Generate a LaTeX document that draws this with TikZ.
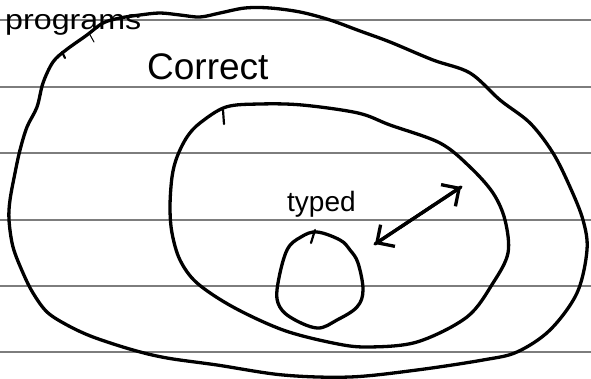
\documentclass[tikz,border=0pt]{standalone}
\usepackage{fontspec}
\setmainfont{Liberation Sans}
\usetikzlibrary{arrows.meta}
\definecolor{rulegray}{RGB}{125,125,125}
\begin{document}
\begin{tikzpicture}[x=1pt,y=-1pt,
  rule/.style={draw=rulegray, line width=1.3pt},
  ink/.style={draw=black, line width=3.3pt, line cap=round, line join=round},
  tick/.style={draw=black, line width=2.2pt, line cap=round},
  hand/.style={inner sep=0pt, anchor=base west, text=black},
  barb/.style={-{Straight Barb[length=13pt,width=26pt,line width=3.3pt]}}]
\clip (0,0) rectangle (591,379);
\fill[white] (0,0) rectangle (591,379);
% ruled paper
\foreach \y in {20,87,153,220,286,352} \draw[rule] (0,\y) -- (591,\y);
% outer set: programs
\draw[ink] plot[smooth cycle, tension=0.55] coordinates {
  (53,62) (43,83) (37,107) (27,127) (20,150) (15,173) (10,200) (9,220)
  (13,247) (23,273) (33,293) (47,312) (67,325) (93,337) (133,350)
  (167,358) (217,365) (283,375) (350,377) (417,370) (483,360) (517,352)
  (550,330) (577,293) (587,250) (583,220) (570,187) (553,153) (530,123)
  (500,100) (470,73) (433,60) (390,42) (360,31) (330,20) (300,12)
  (270,8) (245,8) (220,13) (200,17) (180,15) (160,13) (140,15) (120,18)
  (103,23) (87,35) (66,50)};
\draw[tick] (62,52) -- (65,58);
\draw[tick, line width=1pt] (89,33) -- (94,42);
% middle set: correct
\draw[ink] plot[smooth cycle, tension=0.55] coordinates {
  (226,107) (260,104) (302,105) (358,113) (390,125) (440,143) (470,167)
  (493,193) (505,220) (508,253) (493,283) (467,317) (417,342) (367,347)
  (333,343) (283,330) (233,307) (197,283) (180,260) (172,233) (170,207)
  (172,177) (177,157) (187,137) (200,123)};
\draw[tick] (223,110) -- (224,124);
% inner set: typed
\draw[ink] plot[smooth cycle, tension=0.6] coordinates {
  (317,232) (340,240) (350,250) (358,263) (363,290) (357,307) (337,320)
  (317,328) (290,317) (278,303) (278,283) (287,250) (301,237)};
\draw[tick] (311,243) -- (315,230);
% labels
\node[hand, xscale=1.15] (lprog) at (5,30)
  {\fontsize{28}{32}\selectfont programs};
\node[hand] (lcorr) at (147,80) {\fontsize{37}{42}\selectfont Correct};
\node[hand] (ltyped) at (287,212) {\fontsize{28}{32}\selectfont typed};
% double-headed arrow between the inner and the middle set
\coordinate (arrA) at (375,244);
\coordinate (arrB) at (461,187);
\draw[ink, barb] (arrB) -- (arrA);
\draw[ink, barb] (arrA) -- (arrB);
\end{tikzpicture}
\end{document}
